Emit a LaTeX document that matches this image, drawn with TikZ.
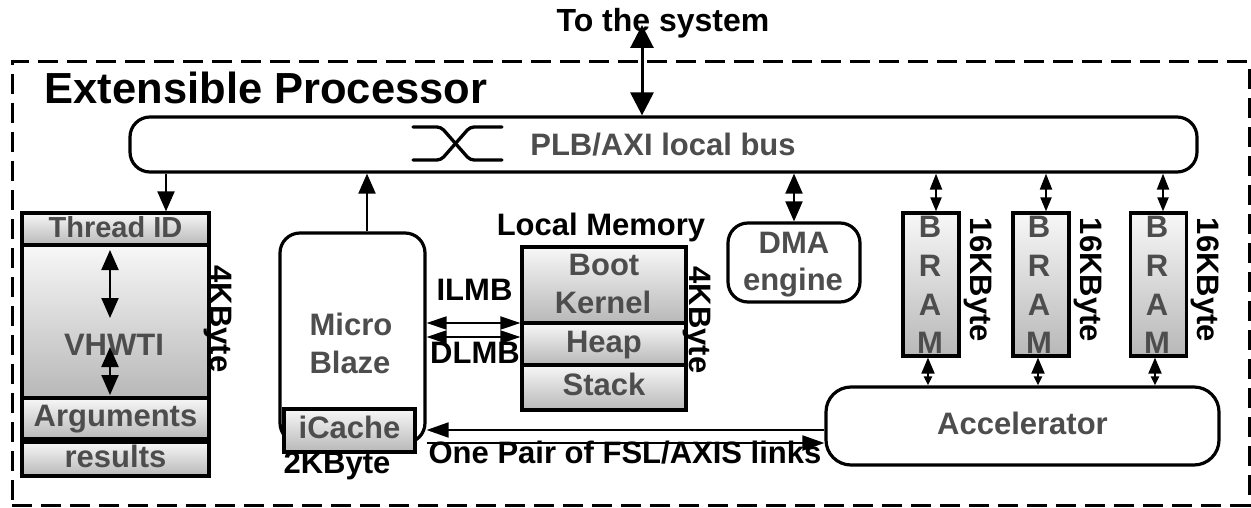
\documentclass[tikz,border=0pt]{standalone}
\usepackage{fontspec}
\setmainfont{Liberation Sans}
\usetikzlibrary{arrows.meta}
\definecolor{txtgray}{HTML}{4D4D4D}
\newcommand\fsz[2]{\fontsize{#1}{#2}\selectfont\bfseries}
\begin{document}
\begin{tikzpicture}[x=1pt,y=-1pt,
  box/.style={draw, line width=3.2pt, inner sep=0pt, anchor=center},
  rbox/.style={box, rounded corners=20pt, fill=white},
  grad/.style={top color=white!97!black, bottom color=black!28},
  cell/.style={box, grad, font=\fsz{31}{38}, text=txtgray, text height=23pt, text depth=6.5pt},
  gtxt/.style={font=\fsz{31}{38}, text=txtgray, inner sep=0pt},
  btxt/.style={font=\fsz{31}{38}, text=black, inner sep=0pt},
  vtxt/.style={btxt, rotate=-90, anchor=center},
  conn/.style={line width=2pt},
  dbl/.style={conn, {Triangle[length=20pt,width=17pt]}-{Triangle[length=20pt,width=17pt]}},
  mdbl/.style={conn, {Triangle[length=20pt,width=13pt]}-{Triangle[length=20pt,width=13pt]}},
  sdbl/.style={conn, {Triangle[length=16pt,width=12pt]}-{Triangle[length=14pt,width=11pt]}},
  sdblb/.style={conn, {Triangle[length=16pt,width=13pt]}-{Triangle[length=9pt,width=8pt]}},
  single/.style={conn, -{Triangle[length=20pt,width=17pt]}},
  fsl/.style={conn, -{Triangle[length=22pt,width=15pt]}},
  bigdbl/.style={line width=3pt, {Triangle[length=23pt,width=23pt]}-{Triangle[length=23pt,width=23pt]}},
  xsym/.style={line width=3.3pt, line cap=round, rounded corners=4pt}
]
\useasboundingbox (0,0) rectangle (1251,508);

% frame and title
\node[draw, line width=3pt, dash pattern=on 20pt off 9pt, minimum width=1237pt, minimum height=443pt, anchor=center] (frame) at (630.5,283.5) {};
\node[font=\fsz{43.5}{50}, inner sep=0pt, anchor=base] (title) at (266,104) {Extensible Processor};

% bus
\node[rbox, minimum width=1067pt, minimum height=55pt] (bus) at (663.5,144.5) {};
\node[gtxt, font=\fsz{31}{38}, anchor=base] (buslbl) at (663,156) {PLB/AXI local bus};
\draw[xsym] (413,127) -- (441,127) -- (470,160) -- (502,160);
\draw[xsym] (413,160) -- (441,160) -- (470,127) -- (502,127);

% to the system
\node[btxt, font=\fsz{32}{38}, anchor=base] (sys) at (663,32) {To the system};
\coordinate (systip) at (642,25);

% VHWTI block
\node[cell, font=\fsz{29}{34}, minimum width=187pt, minimum height=32pt] (tid) at (115.5,229) {Thread ID};
\node[box, grad, minimum width=187pt, minimum height=153pt] (vh) at (115.5,321.5) {};
\node[gtxt, anchor=base] (vhlbl) at (114,355) {VHWTI};
\node[cell, minimum width=187pt, minimum height=41pt] (args) at (115.5,418.5) {Arguments};
\node[cell, minimum width=187pt, minimum height=34pt] (res) at (115.5,459) {results};
\node[vtxt] (vhsz) at (218,319) {4KByte};
\coordinate (va1) at (110,250); \coordinate (va2) at (110,318);
\coordinate (vb1) at (110,347); \coordinate (vb2) at (110,395);

% MicroBlaze
\node[rbox, minimum width=145pt, minimum height=210pt] (mb) at (352.5,338) {};
\node[gtxt, anchor=base] (mbl1) at (351,335) {Micro};
\node[gtxt, anchor=base] (mbl2) at (350,373) {Blaze};
\node[cell, minimum width=131pt, minimum height=43pt] (icache) at (349.5,430.5) {iCache};
\node[btxt, anchor=base] (icsz) at (337,473) {2KByte};

% Local memory
\node[btxt, anchor=base] (lmlbl) at (601,235) {Local Memory};
\node[box, grad, minimum width=164pt, minimum height=76pt] (boot) at (604,285) {};
\node[gtxt, anchor=base] (bootl1) at (604,275) {Boot};
\node[gtxt, anchor=base] (bootl2) at (603,313) {Kernel};
\node[cell, minimum width=164pt, minimum height=42pt] (heap) at (604,344) {Heap};
\node[cell, minimum width=164pt, minimum height=45pt] (stack) at (604,387.5) {Stack};
\node[vtxt] (lmsz) at (697,320) {4KByte};
\node[btxt, anchor=base] (ilmb) at (474.5,300) {ILMB};
\node[btxt, anchor=base] (dlmb) at (475,363) {DLMB};

% DMA
\node[rbox, minimum width=132pt, minimum height=79pt] (dma) at (794,262.5) {};
\node[gtxt, anchor=base] (dmal1) at (794,253) {DMA};
\node[gtxt, anchor=base] (dmal2) at (793,290) {engine};

% Accelerator
\node[rbox, rounded corners=25pt, minimum width=393pt, minimum height=78pt, font=\fsz{31}{38}, text=txtgray, text height=23pt, text depth=6.5pt] (acc) at (1022.5,426) {Accelerator};
\node[btxt, anchor=base] (fsllbl) at (625,463) {One Pair of FSL/AXIS links};

% BRAMs
\foreach \n/\x/\lx/\vx in {1/931/930/978, 2/1041/1039/1088, 3/1158.5/1157/1205} {
  \node[box, grad, minimum width=56pt, minimum height=143pt] (bram\n) at (\x,284.5) {};
  \foreach \l/\y in {B/237,R/276,A/315,M/353}
    \node[gtxt, anchor=base] (bram\n\l) at (\lx,\y) {\l};
  \node[vtxt] (bramsz\n) at (\vx,280) {16KByte};
}

% connectors
\draw[bigdbl] (systip) -- (systip |- bus.north);
\coordinate (a1) at (166,0);
\draw[single] (a1 |- bus.south) -- (a1 |- tid.north);
\coordinate (a2) at (367,0);
\draw[single] (a2 |- mb.north) -- (a2 |- bus.south);
\draw[dbl] (va1) -- (va2);
\draw[dbl] (vb1) -- (vb2);
\coordinate (il) at (0,323);
\draw[mdbl] (il -| mb.east) -- (il -| boot.west);
\coordinate (dl) at (0,337);
\draw[mdbl] (dl -| mb.east) -- (dl -| heap.west);
\coordinate (d) at (794,0);
\draw[dbl] (d |- bus.south) -- (d |- dma.north);
\foreach \n/\tx/\bx in {1/936/928, 2/1046/1038, 3/1163/1155} {
  \coordinate (bt\n) at (\tx,0);
  \coordinate (bb\n) at (\bx,0);
  \draw[sdbl] (bt\n |- bus.south) -- (bt\n |- bram\n.north);
  \draw[sdblb] (bb\n |- bram\n.south) -- (bb\n |- acc.north);
}
\coordinate (f1) at (0,430);
\coordinate (f2) at (0,443);
\draw[fsl] (f1 -| acc.west) -- (f1 -| mb.east);
\draw[fsl] (f2 -| mb.east) -- (f2 -| acc.west);
\end{tikzpicture}
\end{document}
